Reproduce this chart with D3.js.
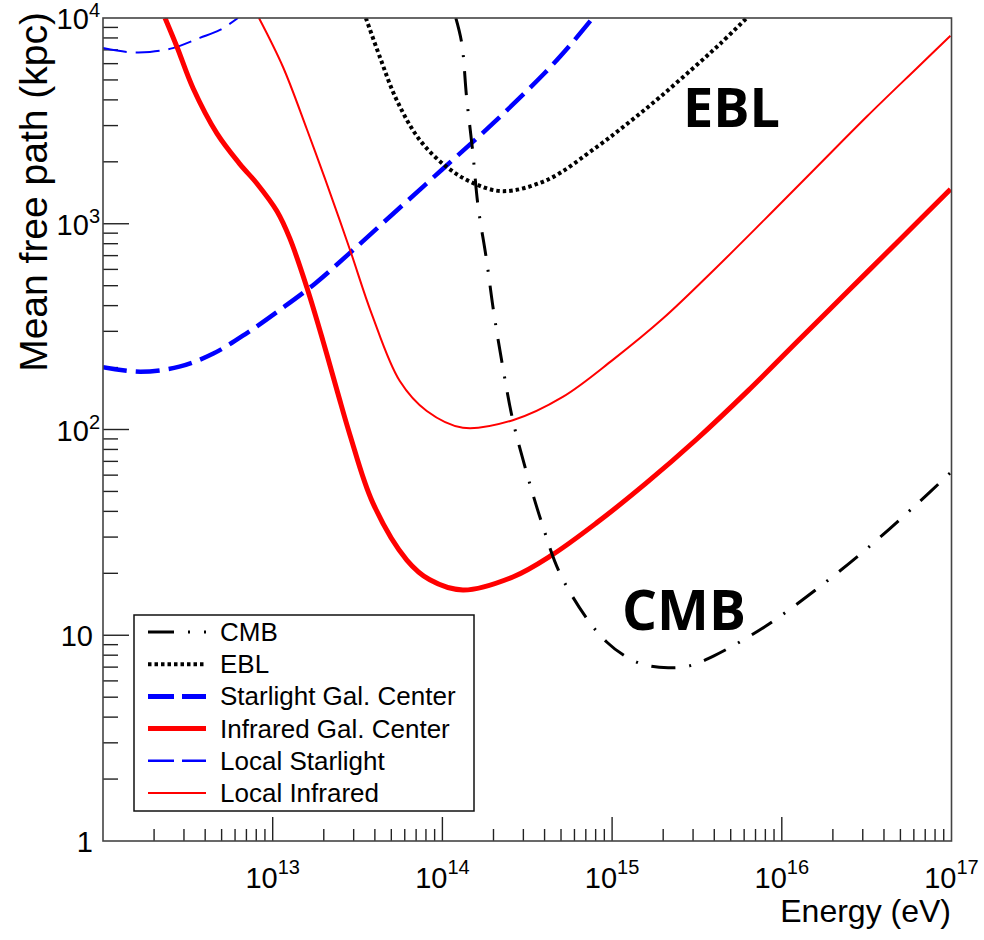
<!DOCTYPE html>
<html><head><meta charset="utf-8">
<script src="https://cdn.jsdelivr.net/npm/d3@7/dist/d3.min.js"></script>
<style>body{margin:0;background:#fff}</style>
</head><body>
<svg id="c" width="984" height="940"></svg>
<script>
// ---- data (energy in eV, mean free path in kpc) ----
const cmbEnergy = [1.20e14,1.30e14,1.39e14,1.51e14,1.62e14,1.82e14,2.01e14,2.27e14,2.60e14,3.14e14,3.85e14,4.91e14,7.18e14,9.29e14,1.22e15,1.58e15,2.14e15,2.82e15,3.98e15,7.94e15,1.58e16,3.16e16,6.31e16,9.86e16];
const cmbPath   = [1.0e4,7.55e3,4.08e3,2.23e3,1.23e3,667,368,201,111,61.5,35.2,20.1,11.9,9.27,7.83,7.16,6.95,7.08,7.94,11.0,16.6,26.3,43.7,61.7];

const eblEnergy = [3.54e13,4.28e13,5.38e13,7.36e13,1.06e14,1.51e14,2.27e14,4.12e14,8.11e14,1.27e15,1.91e15,2.99e15,4.31e15,6.21e15];
const eblPath   = [1.0e4,6.46e3,3.99e3,2.55e3,1.89e3,1.58e3,1.44e3,1.63e3,2.36e3,3.13e3,4.12e3,5.69e3,7.46e3,1.0e4];

const starGCEnergy = [1.0e12,1.66e12,2.82e12,4.47e12,7.08e12,1.12e13,1.78e13,2.82e13,5.01e13,1.0e14,2.0e14,3.98e14,5.62e14,7.69e14];
const starGCPath   = [201,191,202,234,295,385,513,716,1.10e3,1.84e3,3.09e3,5.37e3,7.33e3,1.0e4];

const irGCEnergy = [2.32e12,2.73e12,3.39e12,4.69e12,6.41e12,8.07e12,1.06e13,1.26e13,1.59e13,1.98e13,2.42e13,2.85e13,3.89e13,6.17e13,8.43e13,1.32e14,2.60e14,4.41e14,8.11e14,1.58e15,3.16e15,6.31e15,1.26e16,2.51e16,5.01e16,9.86e16];
const irGCPath   = [1.0e4,7.23e3,4.57e3,2.75e3,1.95e3,1.57e3,1.15e3,851,490,269,150,94.4,44.0,23.2,18.6,16.6,19.2,24.5,35.2,54.7,89.9,154,272,479,843,1.47e3];

const localStarEnergy = [1.0e12,1.38e12,1.89e12,2.58e12,3.72e12,4.89e12,6.24e12];
const localStarPath   = [7.14e3,6.84e3,6.84e3,7.14e3,8.0e3,8.75e3,1.0e4];

const localIREnergy = [8.30e12,1.15e13,1.59e13,2.03e13,2.85e13,3.84e13,5.61e13,8.09e13,1.32e14,2.60e14,5.12e14,1.01e15,2.0e15,3.98e15,7.94e15,1.58e16,3.16e16,6.31e16,9.86e16];
const localIRPath   = [1.0e4,5.78e3,2.88e3,1.66e3,750,363,172,123,102,111,144,218,347,596,1.05e3,1.86e3,3.31e3,5.75e3,8.2e3];

const legendLabels = ["CMB","EBL","Starlight Gal. Center","Infrared Gal. Center","Local Starlight","Local Infrared"];
const xTickExponents = [13,14,15,16,17];
const yTickLabels = [{v:1,base:"1",exp:""},{v:10,base:"10",exp:""},{v:100,base:"10",exp:"2"},{v:1000,base:"10",exp:"3"},{v:10000,base:"10",exp:"4"}];

// ---- layout ----
const svg = d3.select("#c");
const L = 103, R = 951.5, T = 18, B = 841;
const x = d3.scaleLog().domain([1e12,1e17]).range([L,R]);
const y = d3.scaleLog().domain([1,1e4]).range([B,T]);
const FONT = "'Liberation Sans', Arial, Helvetica, sans-serif";

svg.append("defs").append("clipPath").attr("id","clip")
  .append("rect").attr("x",L).attr("y",T).attr("width",R-L).attr("height",B-T);

// ticks
const g = svg.append("g").attr("stroke","#222").attr("stroke-width",1.4);
for (let d = 12; d < 17; d++) {
  for (let m = 1; m <= 9; m++) {
    const v = m * Math.pow(10,d);
    if (v <= 1e12) continue;
    const px = x(v);
    const len = m === 1 ? 24 : 12;
    g.append("line").attr("x1",px).attr("x2",px).attr("y1",B).attr("y2",B-len);
  }
}
for (let d = 0; d < 4; d++) {
  for (let m = 1; m <= 9; m++) {
    const v = m * Math.pow(10,d);
    if (v <= 1) continue;
    const py = y(v);
    const len = m === 1 ? 26 : 15;
    g.append("line").attr("y1",py).attr("y2",py).attr("x1",L).attr("x2",L+len);
  }
}

// curves
const line = d3.line().x(d=>x(d[0])).y(d=>y(d[1])).curve(d3.curveCatmullRom.alpha(0.5));
const zip = (a,b) => a.map((v,i)=>[v,b[i]]);
const series = [
  {e:localStarEnergy, p:localStarPath, color:"#0000ff", w:2,   dash:"24,9"},
  {e:starGCEnergy,    p:starGCPath,    color:"#0000ff", w:4.5, dash:"24,9"},
  {e:localIREnergy,   p:localIRPath,   color:"#ff0000", w:2,   dash:null},
  {e:irGCEnergy,      p:irGCPath,      color:"#ff0000", w:5,   dash:null},
  {e:eblEnergy,       p:eblPath,       color:"#000000", w:4,   dash:"3.5,3"},
  {e:cmbEnergy,       p:cmbPath,       color:"#000000", w:3,   dash:"24,14,2,14"}
];
const cg = svg.append("g").attr("clip-path","url(#clip)");
series.forEach(s=>{
  cg.append("path").attr("d", line(zip(s.e,s.p)))
    .attr("fill","none").attr("stroke",s.color).attr("stroke-width",s.w)
    .attr("stroke-dasharray",s.dash).attr("stroke-linejoin","round");
});

// frame
svg.append("rect").attr("x",L).attr("y",T).attr("width",R-L).attr("height",B-T)
  .attr("fill","none").attr("stroke","#444").attr("stroke-width",1.6);

// x tick labels
xTickExponents.forEach(e=>{
  const t = svg.append("text").attr("x",x(Math.pow(10,e))).attr("y",888)
    .attr("text-anchor","middle").attr("font-family",FONT).attr("font-size",29).attr("fill","#000");
  t.append("tspan").text("10");
  t.append("tspan").attr("font-size",20).attr("dy",-14).text(e);
});
// y tick labels
yTickLabels.forEach(d=>{
  const t = svg.append("text").attr("x", d.exp ? 100 : 93).attr("y",y(d.v)+11)
    .attr("text-anchor","end").attr("font-family",FONT).attr("font-size",29).attr("fill","#000");
  t.append("tspan").text(d.base);
  if (d.exp) t.append("tspan").attr("font-size",20).attr("dy",-12).text(d.exp);
});

// axis titles
svg.append("text").attr("transform","translate(47,12) rotate(-90)")
  .attr("text-anchor","end").attr("font-family",FONT).attr("font-size",39).attr("fill","#000")
  .text("Mean free path (kpc)");
svg.append("text").attr("x",951).attr("y",922).attr("text-anchor","end")
  .attr("font-family",FONT).attr("font-size",32).attr("fill","#000").text("Energy (eV)");

// annotations
svg.append("text").attr("x",683).attr("y",127).attr("font-family","'Open Sans', sans-serif")
  .attr("font-weight","bold").attr("font-size",54).attr("fill","#000").text("EBL");
svg.append("text").attr("x",622).attr("y",630).attr("font-family","'Open Sans', sans-serif")
  .attr("font-weight","bold").attr("font-size",55).attr("fill","#000").text("CMB");

// legend
const lg = svg.append("g");
lg.append("rect").attr("x",134).attr("y",615).attr("width",340).attr("height",196)
  .attr("fill","#fff").attr("stroke","#111").attr("stroke-width",1.5);
const legStyles = [
  {color:"#000", w:3,   dash:"26,14,2,14"},
  {color:"#000", w:4,   dash:"3.5,3"},
  {color:"#0000ff", w:5, dash:"26,8"},
  {color:"#ff0000", w:5, dash:null},
  {color:"#0000ff", w:2.5, dash:"26,8"},
  {color:"#ff0000", w:2, dash:null}
];
legendLabels.forEach((lab,i)=>{
  const cy = 632 + i*32.2;
  const s = legStyles[i];
  lg.append("line").attr("x1",148).attr("x2",206).attr("y1",cy).attr("y2",cy)
    .attr("stroke",s.color).attr("stroke-width",s.w).attr("stroke-dasharray",s.dash);
  lg.append("text").attr("x",220).attr("y",cy+9).attr("font-family",FONT)
    .attr("font-size",26).attr("fill","#000").text(lab);
});
</script>
</body></html>
